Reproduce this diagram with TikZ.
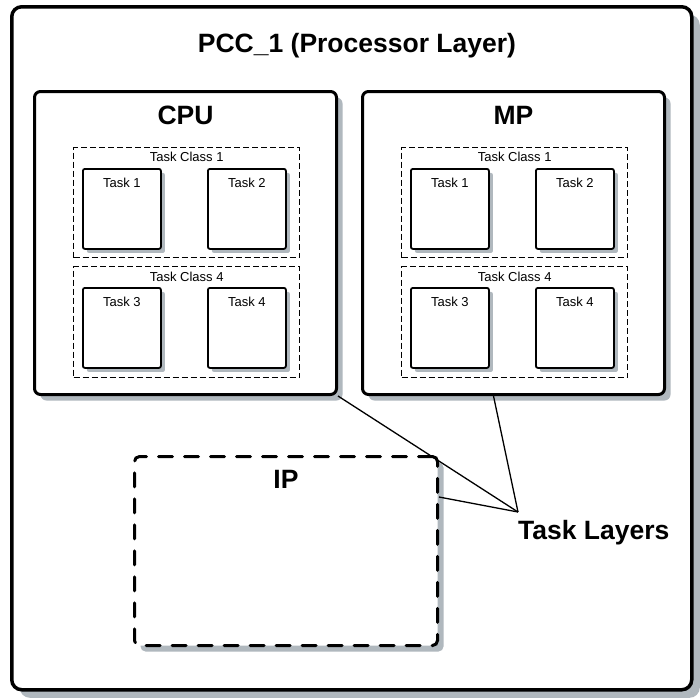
\documentclass[tikz,border=0pt]{standalone}
\usepackage{fontspec}
\setmainfont{Liberation Sans}
\usetikzlibrary{shadows,positioning}
\definecolor{shadowgray}{RGB}{176,184,190}
\tikzset{
  boxshadow/.style={drop shadow={shadow xshift=#1, shadow yshift=-#1, fill=shadowgray, opacity=1}},
  layerbox/.style={draw, fill=white, line width=3.5pt, rounded corners=10pt, boxshadow=8pt,
    anchor=north west, inner sep=0pt},
  procbox/.style={draw, fill=white, line width=3pt, rounded corners=6pt, boxshadow=6pt,
    anchor=north west, inner sep=0pt, minimum width=302pt, minimum height=303pt},
  classbox/.style={draw, line width=1.4pt, dash pattern=on 6pt off 3pt,
    anchor=north west, inner sep=0pt, minimum width=226pt},
  taskbox/.style={draw, fill=white, line width=1.8pt, rounded corners=2pt, boxshadow=4pt,
    anchor=north west, inner sep=0pt, minimum width=78pt, minimum height=80pt},
  ipbox/.style={draw, fill=white, line width=3pt, rounded corners=5pt, boxshadow=6pt,
    dash pattern=on 14pt off 12pt, line cap=round, anchor=north west, inner sep=0pt},
  headtext/.style={font=\fontsize{26.5}{30}\selectfont\bfseries, inner sep=0pt},
  smalltext/.style={font=\fontsize{13}{15}\selectfont, inner sep=0pt},
  leader/.style={line width=1.3pt}
}
\begin{document}
\begin{tikzpicture}[x=1pt, y=-1pt]
  \useasboundingbox (0,0) rectangle (700,699);

  \node[layerbox, minimum width=680pt, minimum height=683pt] (pcc) at (10,5) {};
  \node[headtext] (pcc-title) at (357,46) {PCC\_1 (Processor Layer)};

  % processors
  \foreach \p/\px/\lbl in {cpu/33/CPU, mp/361/MP} {
    \node[procbox] (\p) at (\px,90) {};
    \node[headtext] (\p-title) at ([yshift=-25pt]\p.north) {\lbl};

    \node[classbox, minimum height=110pt] (\p-tc1) at ([xshift=40pt,yshift=-57pt]\p.north west) {};
    \node[smalltext] (\p-tc1-title) at ([yshift=-10pt]\p-tc1.north) {Task Class 1};
    \node[taskbox] (\p-t1) at ([xshift=9pt,yshift=-21pt]\p-tc1.north west) {};
    \node[taskbox] (\p-t2) at ([xshift=134pt,yshift=-21pt]\p-tc1.north west) {};

    \node[classbox, minimum height=111pt] (\p-tc4) at ([xshift=40pt,yshift=-176pt]\p.north west) {};
    \node[smalltext] (\p-tc4-title) at ([yshift=-11pt]\p-tc4.north) {Task Class 4};
    \node[taskbox] (\p-t3) at ([xshift=9pt,yshift=-21pt]\p-tc4.north west) {};
    \node[taskbox] (\p-t4) at ([xshift=134pt,yshift=-21pt]\p-tc4.north west) {};

    \node[smalltext] at ([yshift=-15pt]\p-t1.north) {Task 1};
    \node[smalltext] at ([yshift=-15pt]\p-t2.north) {Task 2};
    \node[smalltext] at ([yshift=-15pt]\p-t3.north) {Task 3};
    \node[smalltext] at ([yshift=-15pt]\p-t4.north) {Task 4};
  }

  \node[ipbox, minimum width=303pt, minimum height=189pt] (ip) at (133,455) {};
  \node[headtext] (ip-title) at ([yshift=-24pt]ip.north) {IP};

  % task layer callout
  \coordinate (meet) at (518,512);
  \draw[leader] (cpu.south east) -- (meet);
  \draw[leader] ([xshift=-20pt]mp.south) -- (meet);
  \draw[leader] ([yshift=-42pt]ip.north east) -- (meet);
  \node[headtext, anchor=north west] (tasklayers) at ([yshift=-8pt]meet) {Task Layers};
\end{tikzpicture}
\end{document}
